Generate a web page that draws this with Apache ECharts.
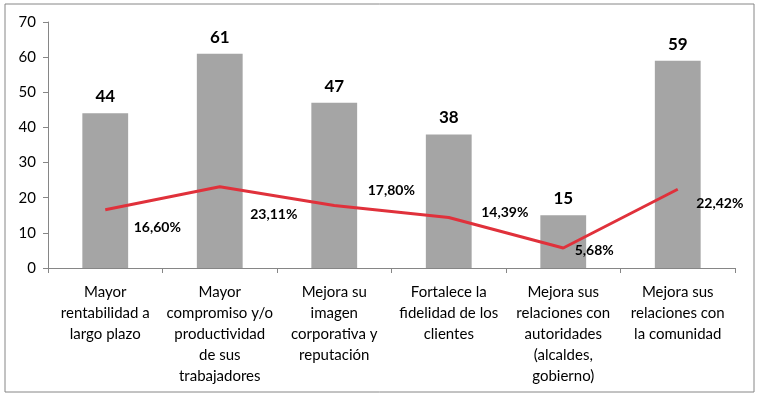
<!DOCTYPE html>
<html>
<head>
<meta charset="utf-8">
<script src="https://cdn.jsdelivr.net/npm/echarts@6/dist/echarts.min.js"></script>
<style>
html,body{margin:0;padding:0;background:#fff;}
#main{width:760px;height:397px;}
</style>
</head>
<body>
<div id="main"></div>
<script>
var categorias = [
    'Mayor\nrentabilidad a\nlargo plazo',
    'Mayor\ncompromiso y/o\nproductividad\nde sus\ntrabajadores',
    'Mejora su\nimagen\ncorporativa y\nreputación',
    'Fortalece la\nfidelidad de los\nclientes',
    'Mejora sus\nrelaciones con\nautoridades\n(alcaldes,\ngobierno)',
    'Mejora sus\nrelaciones con\nla comunidad'
];
var empresas = [44, 61, 47, 38, 15, 59];
var porcentajes = [16.60, 23.11, 17.80, 14.39, 5.68, 22.42];
var ticksY = [0, 10, 20, 30, 40, 50, 60, 70];

// posicion de las etiquetas del % (colocadas a mano como en el original)
var offsets = [[52, 18], [54, 28], [57, -15], [56, -5], [31, 2], [42, 14]];

var fuente = 'Lato';
var main = document.getElementById('main');
var mychart = echarts.init(main);
var option = {
    animation: false,
    grid: {left: 48, right: 25, top: 22, bottom: 129},
    graphic: [{type: 'rect', shape: {x: 5, y: 4, width: 749, height: 388},
        style: {fill: 'none', stroke: '#868686', lineWidth: 1}, silent: true}],
    xAxis: {
        type: 'category',
        data: categorias,
        axisLine: {lineStyle: {color: '#868686'}},
        axisTick: {show: true, alignWithLabel: false, length: 5, inside: false, lineStyle: {color: '#868686'}},
        axisLabel: {interval: 0, color: '#000', fontFamily: fuente, fontSize: 15, lineHeight: 21, margin: 14}
    },
    yAxis: {
        type: 'value',
        min: ticksY[0], max: ticksY[ticksY.length - 1], interval: 10,
        splitLine: {show: false},
        axisLine: {show: true, lineStyle: {color: '#868686'}},
        axisTick: {show: true, length: 5, lineStyle: {color: '#868686'}},
        axisLabel: {color: '#000', fontFamily: fuente, fontSize: 15, margin: 12}
    },
    series: [
        {
            type: 'bar',
            data: empresas,
            barWidth: '40%',
            itemStyle: {color: '#a5a5a5'},
            label: {show: true, position: 'top', distance: 8, color: '#000',
                fontFamily: fuente, fontWeight: 'bold', fontSize: 17}
        },
        {
            type: 'line',
            data: porcentajes.map(function (v, i) {
                return {value: v, label: {show: true, offset: offsets[i]}};
            }),
            showSymbol: true,
            symbol: 'circle',
            symbolSize: 2,
            itemStyle: {color: 'rgba(0,0,0,0)'},
            lineStyle: {color: '#e0313b', width: 3},
            label: {show: true, position: 'inside', color: '#000',
                fontFamily: fuente, fontWeight: 'bold', fontSize: 14,
                formatter: function (p) { return p.value.toFixed(2).replace('.', ',') + '%'; }}
        }
    ]
};
mychart.setOption(option);
</script>
</body>
</html>
